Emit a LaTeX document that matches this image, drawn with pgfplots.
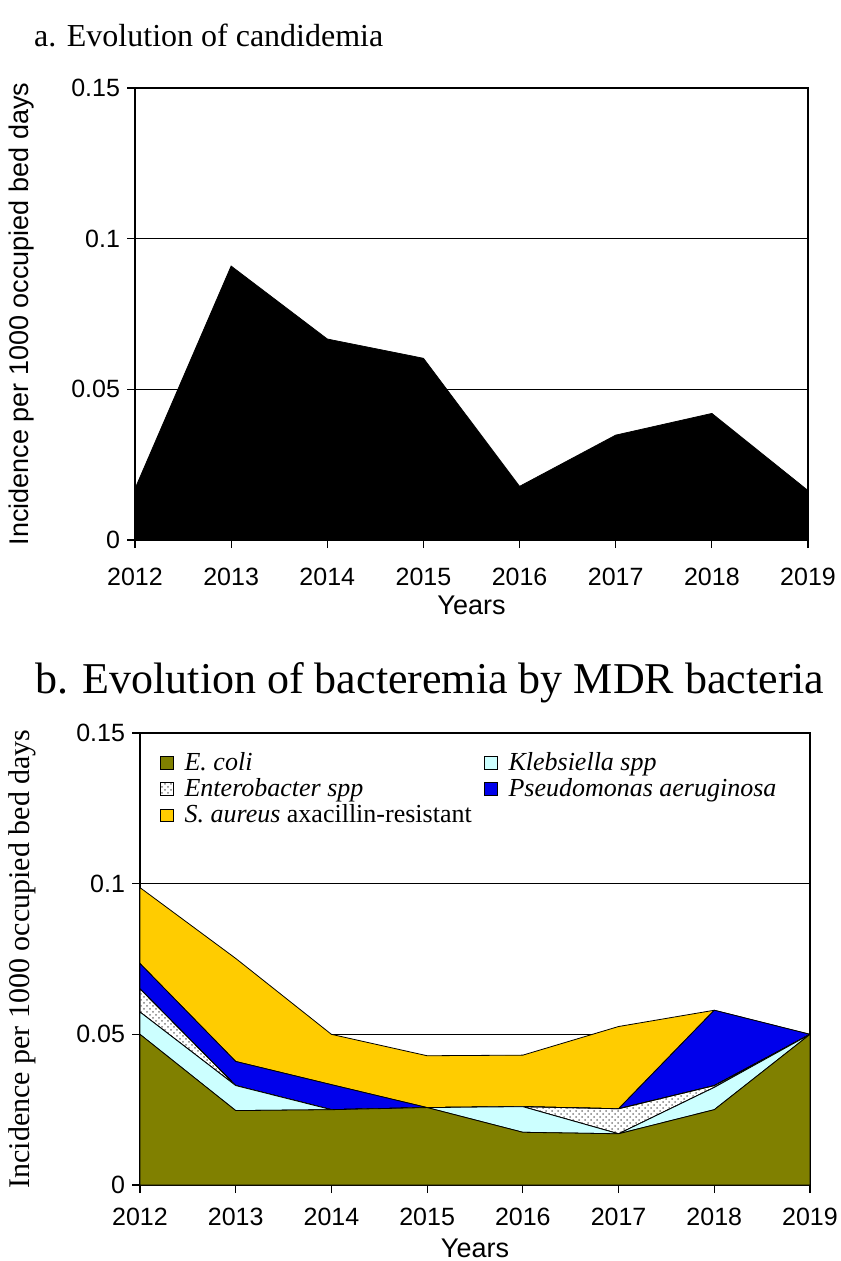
\documentclass[border=0pt]{standalone}
\usepackage{pgfplots}
\pgfplotsset{compat=1.18}
\usepackage{fontspec}
\setmainfont{Liberation Serif}
\setsansfont{Liberation Sans}
\usetikzlibrary{patterns}

\definecolor{ecoli}{RGB}{128,128,0}
\definecolor{kleb}{RGB}{204,255,255}
\definecolor{pseudo}{RGB}{0,0,235}
\definecolor{aureus}{RGB}{255,204,0}

\pgfplotsset{
  chart/.style={
    scale only axis,
    height=226pt,
    xmin=2012, xmax=2019, ymin=0, ymax=0.15,
    xtick={2012,2013,2014,2015,2016,2017,2018,2019},
    ytick={0,0.05,0.1,0.15},
    ymajorgrids,
    grid style={black, line width=0.6pt},
    axis line style={black, line width=0.6pt},
    tick align=outside, tick pos=left,
    major tick length=4pt,
    tick style={black, line width=0.6pt},
    /pgf/number format/assume math mode=true,
    ticklabel style={font=\sffamily\fontsize{12.5}{14}\selectfont},
    xticklabel style={/pgf/number format/1000 sep={}},
    yticklabel style={/pgf/number format/fixed, /pgf/number format/precision=2},
    xlabel={Years},
    ylabel={Incidence per 1000 occupied bed days},
  }
}

\begin{document}
\begin{tikzpicture}
\path[use as bounding box] (0,0) rectangle (420pt,-630.5pt);

\node[anchor=west, font=\fontsize{16}{19}\selectfont] at (13.5pt,-17.5pt) {a. Evolution of candidemia};

% a. candidemia
\begin{axis}[chart,
  at={(67.5pt,-270pt)}, anchor=south west, width=336.5pt,
  xticklabel style={yshift=-6.5pt},
  xlabel style={font=\sffamily\fontsize{13.5}{15}\selectfont, at={(axis description cs:0.5,-0.144)}, anchor=center},
  ylabel style={font=\sffamily\fontsize{13.5}{15}\selectfont, at={(axis description cs:-0.168,0.5)}, anchor=center},
]
\addplot[fill=black, draw=black] coordinates {
  (2012,0.0170) (2013,0.0909) (2014,0.0667) (2015,0.0603)
  (2016,0.0178) (2017,0.0348) (2018,0.0420) (2019,0.0164)
} \closedcycle;
\end{axis}

\node[anchor=west, font=\fontsize{22}{25}\selectfont] at (14pt,-341.5pt) {b. Evolution of bacteremia by MDR bacteria};

% b. bacteremia by MDR bacteria (stacked)
\begin{axis}[chart,
  at={(70pt,-592.5pt)}, anchor=south west, width=335pt,
  stack plots=y,
  xticklabel style={yshift=-4pt},
  xlabel style={font=\sffamily\fontsize{13.5}{15}\selectfont, at={(axis description cs:0.5,-0.141)}, anchor=center},
  ylabel style={font=\fontsize{15}{17}\selectfont, at={(axis description cs:-0.176,0.5)}, anchor=center},
  legend columns=2,
  legend cell align=left,
  legend image code/.code={\draw[#1, draw=black, line width=0.4pt] (0pt,-3.2pt) rectangle (6.4pt,3.2pt); \path (10pt,0pt);},
  legend style={draw=none, fill=none, at={(axis description cs:0.02,0.975)}, anchor=north west,
    font=\itshape\fontsize{13}{14}\selectfont, row sep=-1.5pt,
    /tikz/every even column/.append style={column sep=4pt}},
]
\addplot[draw=black, line width=0.4pt, fill=ecoli] coordinates {
  (2012,0.0500) (2013,0.0247) (2014,0.0250) (2015,0.0257)
  (2016,0.0175) (2017,0.0170) (2018,0.0250) (2019,0.0500)
} \closedcycle;
\addlegendentry{E. coli}
\addplot[draw=black, line width=0.4pt, fill=kleb] coordinates {
  (2012,0.0074) (2013,0.0083) (2014,0) (2015,0)
  (2016,0.0085) (2017,0) (2018,0.0074) (2019,0)
} \closedcycle;
\addlegendentry{Klebsiella spp}
\addplot[draw=black, line width=0.4pt, fill=white, postaction={pattern=crosshatch dots, pattern color=gray}] coordinates {
  (2012,0.0077) (2013,0) (2014,0) (2015,0)
  (2016,0) (2017,0.0083) (2018,0.0006) (2019,0)
} \closedcycle;
\addlegendentry{Enterobacter spp}
\addplot[draw=black, line width=0.4pt, fill=pseudo] coordinates {
  (2012,0.0084) (2013,0.0080) (2014,0.0083) (2015,0)
  (2016,0) (2017,0) (2018,0.0250) (2019,0)
} \closedcycle;
\addlegendentry{Pseudomonas aeruginosa}
\addplot[draw=black, line width=0.4pt, fill=aureus] coordinates {
  (2012,0.0252) (2013,0.0342) (2014,0.0167) (2015,0.0172)
  (2016,0.0171) (2017,0.0273) (2018,0) (2019,0)
} \closedcycle;
\addlegendentry{S. aureus {\upshape axacillin-resistant}}
\end{axis}
\end{tikzpicture}
\end{document}
